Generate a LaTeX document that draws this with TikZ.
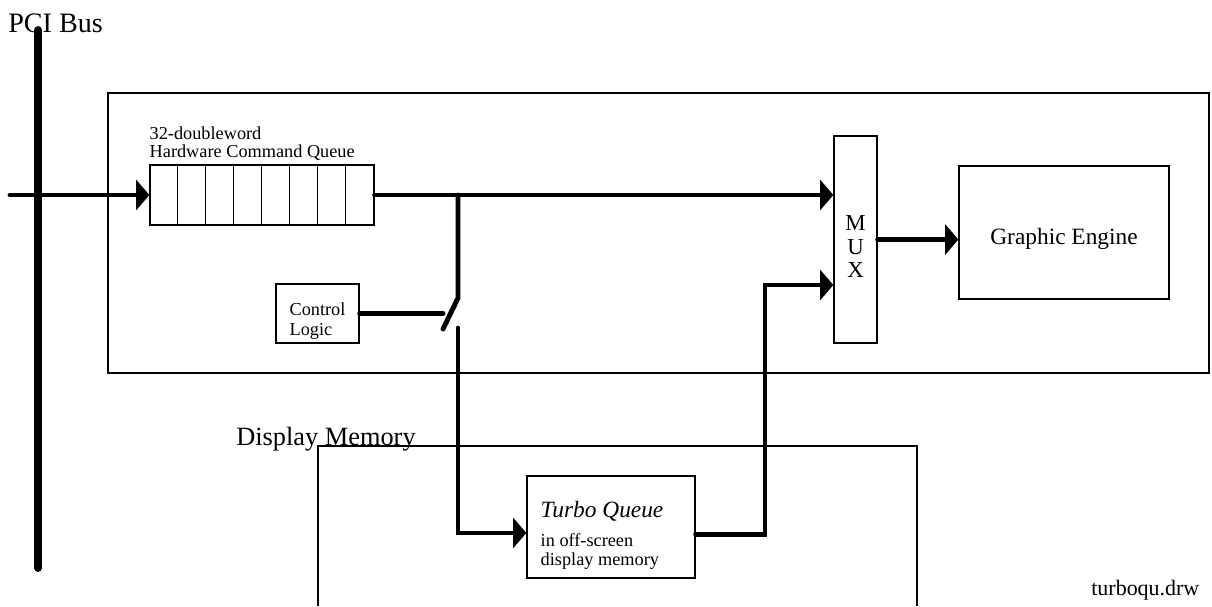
\documentclass[tikz,border=0pt]{standalone}
\usepackage{fontspec}
\setmainfont{Liberation Serif}
\usetikzlibrary{arrows.meta,positioning}

\begin{document}
\begin{tikzpicture}[x=0.02cm,y=-0.02cm,>={Triangle[length=7.5pt,width=17pt]},
 box/.style={draw,line width=0.75pt,inner sep=0pt},
 txt/.style={inner sep=0pt,align=left},
 frame/.style={line width=1.1pt},
 flow/.style={line width=2.8pt,line cap=round},
 bus/.style={line width=4.5pt,line cap=round},
 lbl/.style={inner sep=0pt,anchor=base west},
 small/.style={font=\fontsize{10.4}{11.3}\selectfont}]
\useasboundingbox (0,0) rectangle (1212,606);
% chip and memory outlines
\node[draw,frame,minimum width=22.02cm,minimum height=5.6cm] (chip) at (658.5,233) {};
\draw[frame] (318,606) |- (917,446) -- (917,606);
\node[lbl,font=\fontsize{16}{19}\selectfont] (pcilbl) at (8,32) {PCI Bus};
\node[lbl,font=\fontsize{15}{18}\selectfont] (memlbl) at (236,445) {Display Memory};
\node[lbl,font=\fontsize{12.5}{15}\selectfont] (file) at (1091,595) {turboqu.drw};
% blocks
\node[box,minimum width=4.48cm,minimum height=1.2cm] (queue) at (262,195) {};
\foreach \i in {1,...,7}
  \draw[line width=0.75pt] ([xshift=\i*0.56cm]queue.north west) -- ([xshift=\i*0.56cm]queue.south west);
\node[txt,anchor=south west,font=\fontsize{10.4}{10.2}\selectfont] (qlbl) at ([yshift=2pt]queue.north west) {32-doubleword\\Hardware Command Queue};
\node[box,minimum width=1.66cm,minimum height=1.18cm] (ctrl) at (317.5,313.5) {};
\node[txt,small] (ctrltxt) at ([yshift=-4.5pt]ctrl.center) {Control\\Logic};
\node[box,minimum width=0.86cm,minimum height=4.14cm] (mux) at (855.5,239.5) {};
\node[txt,align=center,font=\fontsize{13}{13.6}\selectfont] (muxtxt) at ([yshift=-4pt]mux.center) {M\\U\\X};
\node[box,minimum width=4.2cm,minimum height=2.66cm] (engine) at (1064,232.5) {};
\node[txt,font=\fontsize{13.3}{16}\selectfont] (enginetxt) at ([yshift=-3.5pt]engine.center) {Graphic Engine};
\node[box,minimum width=3.36cm,minimum height=2.04cm] (turbo) at (611,527) {};
\node[txt,anchor=west,font=\fontsize{10.4}{10.8}\selectfont] (turbotxt) at ([xshift=0.28cm,yshift=-5pt]turbo.west)
  {{\fontsize{13.3}{14}\selectfont\itshape Turbo Queue}\\[5.7pt]in off-screen\\display memory};
% bus and data paths
\coordinate (bustop) at (38,30);
\coordinate (busbot) at (38,568);
\draw[bus] (bustop) -- (busbot);
\coordinate (pciin) at (10,195);
\coordinate (tap) at (458,195);
\coordinate (swtop) at (458,298);
\coordinate (swtip) at (443,329);
\coordinate (swbot) at (458,328);
\coordinate (riser) at (765,285);
\draw[flow,->] (pciin) -- (queue.west);
\draw[flow,->] (queue.east) -- (mux.west |- queue.east);
\draw[flow] (tap) -- (swtop) -- (swtip);
\draw[flow] (ctrl.east) -- (swtip |- ctrl.east);
\draw[flow,->] (swbot) |- ([yshift=-3.4pt]turbo.west);
\draw[flow,->] ([yshift=-4pt]turbo.east) -| (riser) -- (riser -| mux.west);
\draw[flow,->] (mux.east) -- (engine.west |- mux.east);
\end{tikzpicture}
\end{document}
